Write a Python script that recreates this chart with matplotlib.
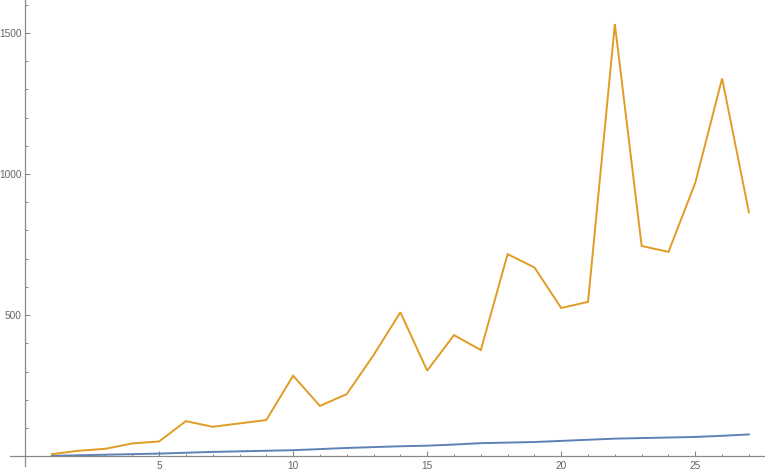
import numpy as np
import matplotlib
matplotlib.use("Agg")
import matplotlib.pyplot as plt
from matplotlib.ticker import MultipleLocator

# ---- data ----
x_vals = list(range(1, 28))
blue_vals = [1, 3, 5, 7, 9, 12, 15, 17, 19, 21, 25, 29, 32, 35,
             37, 41, 46, 48, 50, 54, 58, 62, 64, 66, 68, 72, 77]
orange_vals = [7, 19, 26, 45, 52, 124, 104, 116, 128, 285, 178, 220, 358, 510,
               303, 429, 376, 716, 669, 525, 547, 1532, 745, 724, 969, 1339, 864]

BLUE = '#5E81B5'
ORANGE = '#E19C24'
AXIS_GRAY = '#8a8a8a'
TEXT_GRAY = '#666666'

plt.rcParams['font.family'] = ['Liberation Sans', 'DejaVu Sans']

W, H = 765, 474
fig = plt.figure(figsize=(W / 100, H / 100), dpi=100)
# leave room for the tick labels below the x axis
ax = fig.add_axes([10 / W, 8 / H, 755 / W, 466 / H])

ax.plot(x_vals, blue_vals, color=BLUE, lw=1.4, solid_joinstyle='miter')
ax.plot(x_vals, orange_vals, color=ORANGE, lw=1.4, solid_joinstyle='miter')

ax.set_xlim(-0.56, 27.6)
ax.set_ylim(-35, 1617)

# axes through origin, Mathematica style
for side in ('top', 'right'):
    ax.spines[side].set_visible(False)
ax.spines['left'].set_position(('data', 0))
ax.spines['bottom'].set_position(('data', 0))
for side in ('left', 'bottom'):
    ax.spines[side].set_color(AXIS_GRAY)
    ax.spines[side].set_linewidth(0.9)

ax.set_xticks([5, 10, 15, 20, 25])
ax.set_yticks([500, 1000, 1500])
ax.xaxis.set_minor_locator(MultipleLocator(1))
ax.yaxis.set_minor_locator(MultipleLocator(100))

ax.tick_params(which='major', direction='in', length=3.3, width=0.8,
               color=AXIS_GRAY, labelcolor=TEXT_GRAY, labelsize=7.3, pad=3.4)
ax.tick_params(which='minor', direction='in', length=1.8, width=0.7,
               color=AXIS_GRAY)
ax.tick_params(axis='y', which='major', pad=2.5)

fig.savefig('out.png', dpi=100)
